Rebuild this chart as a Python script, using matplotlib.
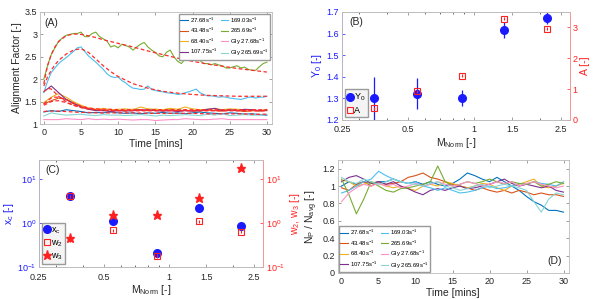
import numpy as np
import matplotlib
matplotlib.use("Agg")
import matplotlib.pyplot as plt
from matplotlib.ticker import FixedLocator, NullFormatter

plt.rcParams['font.family'] = ['Liberation Sans', 'DejaVu Sans']
plt.rcParams['mathtext.fontset'] = 'custom'
plt.rcParams['mathtext.rm'] = 'Liberation Sans'
plt.rcParams['mathtext.it'] = 'Liberation Sans'
plt.rcParams['mathtext.default'] = 'regular'

# ---- data -----------------------------------------------------------------
labels = ['27.68s$^{-1}$', '43.48s$^{-1}$', '68.40s$^{-1}$', '107.75s$^{-1}$',
          '169.03s$^{-1}$', '265.69s$^{-1}$', 'Gly 27.68s$^{-1}$', 'Gly 265.69s$^{-1}$']
colors = ['#0072BD', '#D95319', '#EDB120', '#7E2F8E',
          '#4DBEEE', '#77AC30', '#FF8FC8', '#86D6D6']

t_half = np.arange(0, 30.01, 0.5)
t_min = np.arange(0, 31, 1)

# (A) alignment factor
af_265 = [2.0, 2.3, 2.55, 2.7, 2.85, 2.92, 2.98, 3.0, 3.02, 3.02, 3.05, 2.95, 2.95, 3.02,
          3.05, 2.95, 2.9, 2.85, 2.72, 2.75, 2.7, 2.78, 2.75, 2.72, 2.65, 2.72, 2.78, 2.82,
          2.72, 2.65, 2.6, 2.52, 2.5, 2.6, 2.65, 2.5, 2.4, 2.35, 2.45, 2.52, 2.55, 2.45,
          2.42, 2.35, 2.35, 2.32, 2.35, 2.32, 2.3, 2.25, 2.25, 2.28, 2.3, 2.25, 2.27, 2.22,
          2.2, 2.2, 2.28, 2.35, 2.38]
af_169 = [1.7, 1.95, 2.15, 2.25, 2.35, 2.42, 2.48, 2.55, 2.62, 2.7, 2.72, 2.62, 2.52, 2.45,
          2.38, 2.3, 2.22, 2.12, 2.06, 2.04, 2.05, 1.97, 1.92, 1.85, 1.8, 1.79, 1.77, 1.78,
          1.85, 1.77, 1.75, 1.73, 1.72, 1.7, 1.69, 1.68, 1.66, 1.67, 1.7, 1.72, 1.75, 1.78,
          1.7, 1.66, 1.63, 1.63, 1.62, 1.6, 1.61, 1.6, 1.58, 1.57, 1.56, 1.55, 1.57, 1.6,
          1.6, 1.58, 1.6, 1.6, 1.62]
af_107 = [1.72, 1.85, 1.7, 1.55, 1.47, 1.38, 1.33, 1.3, 1.3, 1.28, 1.3, 1.29, 1.3, 1.31, 1.32,
          1.3, 1.29, 1.3, 1.28, 1.3, 1.29, 1.3, 1.33, 1.35, 1.3, 1.32, 1.3, 1.33, 1.32, 1.3, 1.31]
af_43 = [1.45, 1.52, 1.58, 1.55, 1.45, 1.4, 1.35, 1.32, 1.3, 1.32, 1.3, 1.31, 1.33, 1.32, 1.3,
         1.33, 1.3, 1.32, 1.3, 1.31, 1.29, 1.3, 1.32, 1.3, 1.29, 1.31, 1.3, 1.28, 1.3, 1.29, 1.3]
af_68 = [1.48, 1.6, 1.68, 1.6, 1.5, 1.42, 1.36, 1.33, 1.35, 1.32, 1.33, 1.34, 1.32, 1.38, 1.34,
         1.33, 1.32, 1.35, 1.33, 1.38, 1.34, 1.32, 1.33, 1.35, 1.32, 1.34, 1.33, 1.32, 1.31, 1.3, 1.33]
af_27 = [1.27, 1.3, 1.28, 1.32, 1.3, 1.28, 1.25, 1.26, 1.25, 1.27, 1.25, 1.24, 1.25, 1.23, 1.25,
         1.24, 1.26, 1.24, 1.25, 1.23, 1.25, 1.27, 1.25, 1.24, 1.23, 1.25, 1.24, 1.22, 1.23, 1.21, 1.2]
af_gly265 = [1.18, 1.25, 1.22, 1.2, 1.21, 1.22, 1.2, 1.19, 1.21, 1.2, 1.2, 1.19, 1.2, 1.21, 1.2,
             1.18, 1.2, 1.19, 1.2, 1.21, 1.2, 1.19, 1.22, 1.2, 1.23, 1.19, 1.2, 1.21, 1.2, 1.2, 1.22]
af_gly27 = [1.1, 1.1, 1.1, 1.12, 1.11, 1.1, 1.12, 1.1, 1.11, 1.1, 1.11, 1.1, 1.09, 1.1, 1.1,
            1.08, 1.09, 1.1, 1.1, 1.12, 1.11, 1.1, 1.1, 1.11, 1.12, 1.1, 1.1, 1.1, 1.1, 1.1, 1.1]

fit_t = [0, 0.5, 1, 1.5, 2, 3, 4, 5, 6, 7, 8, 9, 10, 12, 14, 16, 18, 20, 22, 24, 26, 28, 30]
fit_265 = [1.9, 2.3, 2.55, 2.72, 2.84, 2.97, 3.01, 3.0, 2.97, 2.93, 2.88, 2.84, 2.8, 2.72,
           2.63, 2.55, 2.47, 2.4, 2.34, 2.29, 2.24, 2.2, 2.16]
fit_169 = [1.85, 2.05, 2.2, 2.32, 2.42, 2.56, 2.65, 2.68, 2.6, 2.45, 2.3, 2.17, 2.06, 1.9,
           1.8, 1.73, 1.69, 1.66, 1.64, 1.63, 1.62, 1.62, 1.62]
fit_107 = [1.72, 1.8, 1.78, 1.7, 1.62, 1.5, 1.42, 1.37, 1.34, 1.32, 1.31, 1.3, 1.3, 1.3,
           1.3, 1.3, 1.3, 1.3, 1.3, 1.3, 1.3, 1.3, 1.3]
fit_43 = [1.42, 1.46, 1.5, 1.52, 1.52, 1.48, 1.42, 1.37, 1.34, 1.32, 1.31, 1.3, 1.3, 1.3,
          1.3, 1.3, 1.3, 1.3, 1.3, 1.3, 1.3, 1.3, 1.3]
fit_68 = [1.45, 1.52, 1.58, 1.6, 1.6, 1.55, 1.47, 1.4, 1.36, 1.34, 1.33, 1.33, 1.32, 1.32,
          1.32, 1.32, 1.32, 1.32, 1.32, 1.32, 1.32, 1.32, 1.32]
fit_27 = [1.28, 1.29, 1.29, 1.29, 1.29, 1.28, 1.27, 1.26, 1.26, 1.25, 1.25, 1.25, 1.25, 1.25,
          1.24, 1.24, 1.24, 1.24, 1.23, 1.23, 1.23, 1.22, 1.22]

# (B), (C) fit parameters vs normalised moment
m_norm = [0.35, 0.55, 0.88, 1.38, 2.16]
y0 = [1.30, 1.32, 1.30, 1.615, 1.67]
y0_lo = [0.10, 0.07, 0.035, 0.035, 0.025]
y0_hi = [0.10, 0.075, 0.04, 0.04, 0.03]
amp = [0.38, 0.93, 1.43, 3.28, 2.95]
amp_err = [0.05, 0.05, 0.05, 0.05, 0.05]
xc = [4.1, 1.1, 0.21, 2.2, 0.85]
w2 = [4.0, 0.68, 0.18, 1.1, 0.63]
w2_err = [0.3, 0.06, 0.02, 0.09, 0.05]
w3 = [0.45, 1.55, 1.5, 3.7, 18.0]
w3_lo = [0.08, 0.15, 0.1, 0.3, 1.0]
w3_hi = [0.1, 0.15, 0.1, 0.3, 1.0]
m_ticks = [0.25, 0.5, 1, 1.5, 2.5]
m_ticklabels = ['0.25', '0.5', '1', '1.5', '2.5']

# (D) particle number
np_27 = [1.0, 1.05, 1.02, 1.05, 1.03, 1.05, 1.05, 1.08, 1.05, 1.03, 1.05, 1.02, 1.05, 1.02, 1.0,
         1.03, 1.08, 1.15, 1.12, 1.08, 1.05, 1.1, 1.05, 1.0, 0.95, 0.88, 0.82, 0.78, 0.72, 0.72, 0.7]
np_43 = [0.98, 0.95, 1.02, 1.05, 1.0, 1.05, 1.02, 1.03, 1.05, 1.1, 1.12, 1.15, 1.1, 1.08, 1.05,
         1.02, 1.0, 0.98, 0.95, 0.98, 0.95, 0.93, 0.95, 0.92, 0.95, 0.93, 0.9, 0.92, 0.9, 0.9, 0.88]
np_68 = [1.07, 1.05, 1.0, 1.02, 1.05, 1.03, 1.0, 0.98, 1.0, 0.97, 0.95, 1.0, 1.02, 1.0, 1.05,
         1.03, 1.0, 0.98, 1.0, 1.03, 1.02, 0.98, 0.95, 1.0, 1.02, 1.05, 1.08, 1.0, 0.98, 1.0, 1.03]
np_107 = [1.05, 1.1, 1.12, 1.08, 1.03, 1.05, 1.02, 1.05, 1.0, 0.97, 0.93, 0.9, 0.95, 0.97, 0.95,
          0.98, 1.0, 0.97, 0.98, 1.0, 1.02, 1.05, 1.08, 1.03, 1.0, 1.02, 1.0, 0.98, 1.0, 0.95, 0.93]
np_169 = [0.92, 0.95, 1.0, 1.05, 1.08, 1.17, 1.12, 1.08, 1.05, 1.03, 1.05, 1.0, 0.98, 0.95, 0.98,
          0.95, 0.92, 0.93, 0.95, 0.98, 1.0, 0.97, 0.98, 1.0, 1.03, 1.02, 1.05, 1.03, 1.02, 1.0, 1.05]
np_265 = [1.08, 0.9, 0.68, 0.85, 1.05, 1.0, 0.95, 0.93, 0.97, 0.98, 1.0, 1.02, 1.05, 1.23, 1.05,
          1.0, 1.02, 1.05, 1.03, 1.05, 1.08, 1.05, 1.02, 1.05, 1.03, 1.02, 1.05, 1.0, 1.02, 1.05, 1.03]
np_gly27 = [0.82, 0.92, 0.98, 1.02, 1.0, 1.03, 1.0, 1.02, 0.98, 1.0, 1.03, 1.0, 1.02, 1.05, 1.02,
            1.0, 1.02, 1.05, 1.03, 1.0, 1.02, 1.05, 1.03, 1.05, 1.0, 1.03, 1.05, 1.02, 1.0, 0.98, 1.0]
np_gly265 = [1.1, 1.05, 1.03, 1.08, 1.05, 1.02, 1.05, 1.08, 1.05, 1.03, 1.02, 1.0, 1.03, 1.05, 1.0,
             0.98, 0.95, 0.97, 1.0, 1.02, 0.98, 1.0, 1.02, 1.0, 0.98, 0.95, 0.82, 0.7, 0.85, 0.92, 0.9]

# ---- style helpers -------------------------------------------------------
TXT = '#262626'
BLUE = '#1a1aff'
RED = '#ff2020'


def matlab_box(ax):
    for s in ax.spines.values():
        s.set_color('#bdbdbd')
        s.set_linewidth(0.6)
    ax.tick_params(direction='in', length=2.5, width=0.5, color='#7a7a7a',
                   labelsize=6.5, labelcolor=TXT, top=True, right=True, pad=2)
    ax.tick_params(axis='x', pad=3)


def small_legend(ax, loc, pad):
    return ax.legend(ncol=2, loc=loc, fontsize=4.3, frameon=True, fancybox=False,
                     edgecolor='#9a9a9a', handlelength=1.3, handletextpad=0.3,
                     columnspacing=0.5, labelspacing=0.2, borderpad=0.25,
                     borderaxespad=pad, framealpha=1)


def dual_axes_style(ax, ax2):
    for a in (ax, ax2):
        for s in a.spines.values():
            s.set_color('#bdbdbd')
            s.set_linewidth(0.6)
    ax.spines['left'].set_color('#8080ff')
    ax2.spines['right'].set_color('#ff9090')
    ax.xaxis.set_major_locator(FixedLocator(m_ticks))
    ax.set_xticklabels(m_ticklabels)
    ax.xaxis.set_minor_formatter(NullFormatter())
    ax.tick_params(direction='in', length=2.5, width=0.5, labelsize=6.5, top=True, pad=2)
    ax.tick_params(axis='x', colors='#7a7a7a', labelcolor=TXT, pad=4)
    ax.tick_params(axis='y', colors=BLUE, labelcolor=BLUE)
    ax.tick_params(which='minor', direction='in', length=1.5, width=0.4, top=True)
    ax2.tick_params(direction='in', length=2.5, width=0.5, labelsize=6.5, colors=RED, pad=2)


fig = plt.figure(figsize=(5.98, 2.99), dpi=100)

# ---- (A) -----------------------------------------------------------------
axA = fig.add_axes([0.067, 0.585, 0.388, 0.375])
series_a = [(t_min, af_27), (t_min, af_43), (t_min, af_68), (t_min, af_107),
            (t_half, af_169), (t_half, af_265), (t_min, af_gly27), (t_min, af_gly265)]
for (tt, yy), c, lab in zip(series_a, colors, labels):
    axA.plot(tt, yy, color=c, lw=0.8, label=lab)
for f in [fit_27, fit_43, fit_68, fit_107, fit_169, fit_265]:
    axA.plot(fit_t, f, color='#ff2a2a', lw=0.9, ls=(0, (3, 2)))
axA.set_xlim(-0.5, 30.7)
axA.set_ylim(1, 3.5)
axA.set_xticks([0, 5, 10, 15, 20, 25, 30])
axA.set_yticks([1, 1.5, 2, 2.5, 3, 3.5])
axA.set_yticklabels(['1', '1.5', '2', '2.5', '3', '3.5'])
matlab_box(axA)
axA.set_xlabel('Time [mins]', fontsize=7.5, color=TXT, labelpad=1)
axA.set_ylabel('Alignment Factor [-]', fontsize=7.5, color=TXT, labelpad=2)
axA.text(0.02, 0.95, '(A)', transform=axA.transAxes, fontsize=7.5, color=TXT, va='top')
small_legend(axA, 'upper right', 0.3)

# ---- (B) -----------------------------------------------------------------
axB = fig.add_axes([0.572, 0.599, 0.381, 0.361])
axB2 = axB.twinx()
hB1 = axB.errorbar(m_norm, y0, yerr=[y0_lo, y0_hi], fmt='o', color=BLUE, ms=5.5,
                   elinewidth=0.9, capsize=0)
hB2 = axB2.errorbar(m_norm, amp, yerr=amp_err, fmt='s', color=RED, mfc='none', ms=4,
                    mew=0.8, elinewidth=0.8, capsize=0)
for ax in (axB, axB2):
    ax.set_xscale('log')
    ax.set_xlim(0.25, 2.75)
axB.set_ylim(1.2, 1.7)
axB2.set_ylim(0, 3.5)
axB.set_yticks([1.2, 1.3, 1.4, 1.5, 1.6, 1.7])
axB2.set_yticks([0, 1, 2, 3])
dual_axes_style(axB, axB2)
axB.set_xlabel('M$_{Norm}$ [-]', fontsize=7.5, color=TXT, labelpad=1)
axB.set_ylabel('Y$_0$ [-]', fontsize=7.5, color=BLUE, labelpad=2)
axB2.set_ylabel('A [-]', fontsize=7.5, color=RED, labelpad=2)
axB.text(0.03, 0.95, '(B)', transform=axB.transAxes, fontsize=7.5, color=TXT, va='top')
axB2.legend([hB1[0], hB2[0]], ['Y$_0$', 'A'], loc='lower left', fontsize=6.5, fancybox=False,
            edgecolor='#9a9a9a', handlelength=0.6, handletextpad=0.2, borderpad=0.25,
            labelspacing=0.3, borderaxespad=0.3, framealpha=1, facecolor='#f4f4f4')

# ---- (C) -----------------------------------------------------------------
axC = fig.add_axes([0.065, 0.107, 0.375, 0.358])
axC2 = axC.twinx()
hC1, = axC.plot(m_norm, xc, 'o', color=BLUE, ms=5.5, zorder=3)
hC2 = axC2.errorbar(m_norm, w2, yerr=w2_err, fmt='s', color=RED, mfc='none', ms=4,
                    mew=0.8, elinewidth=0.8, capsize=0)
hC3 = axC2.errorbar(m_norm, w3, yerr=[w3_lo, w3_hi], fmt='*', color=RED, ms=6.5,
                    elinewidth=0.8, capsize=0)
for ax in (axC, axC2):
    ax.set_xscale('log')
    ax.set_yscale('log')
    ax.set_xlim(0.25, 2.75)
    ax.set_ylim(0.1, 27)
    ax.set_yticks([0.1, 1, 10])
    ax.yaxis.set_minor_locator(FixedLocator([]))
dual_axes_style(axC, axC2)
axC.set_xlabel('M$_{Norm}$ [-]', fontsize=7.5, color=TXT, labelpad=1)
axC.set_ylabel('x$_c$ [-]', fontsize=7.5, color=BLUE, labelpad=1)
axC2.set_ylabel('w$_2$, w$_3$ [-]', fontsize=7.5, color=RED, labelpad=2)
axC.text(0.03, 0.95, '(C)', transform=axC.transAxes, fontsize=7.5, color=TXT, va='top')
axC2.legend([hC1, hC2[0], hC3[0]], ['x$_c$', 'w$_2$', 'w$_3$'], loc='lower left',
            fontsize=6.5, fancybox=False, edgecolor='#9a9a9a', handlelength=0.6,
            handletextpad=0.2, borderpad=0.25, labelspacing=0.3, borderaxespad=0.3,
            framealpha=1, facecolor='#f4f4f4')

# ---- (D) -----------------------------------------------------------------
axD = fig.add_axes([0.565, 0.087, 0.386, 0.378])
series_d = [np_27, np_43, np_68, np_107, np_169, np_265, np_gly27, np_gly265]
for yy, c, lab in zip(series_d, colors, labels):
    axD.plot(t_min, yy, color=c, lw=0.8, label=lab)
axD.set_xlim(-0.5, 30.7)
axD.set_ylim(0, 1.3)
axD.set_xticks([0, 5, 10, 15, 20, 25, 30])
axD.set_yticks([0, 0.2, 0.4, 0.6, 0.8, 1.0, 1.2])
axD.set_yticklabels(['0', '0.2', '0.4', '0.6', '0.8', '1', '1.2'])
matlab_box(axD)
axD.set_xlabel('Time [mins]', fontsize=7.5, color=TXT, labelpad=1)
axD.set_ylabel('N$_P$ / N$_{avg}$ [-]', fontsize=7.5, color=TXT, labelpad=2)
axD.text(0.97, 0.08, '(D)', transform=axD.transAxes, fontsize=7.5, color=TXT, ha='right')
small_legend(axD, 'lower left', 0.15)

fig.savefig('out.png', dpi=100)
